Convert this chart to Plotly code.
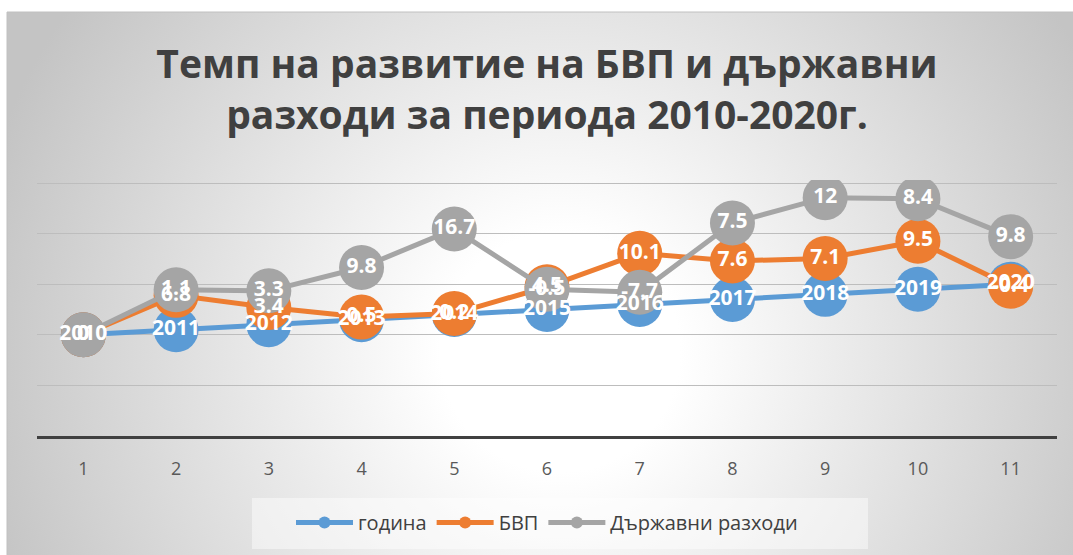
import base64
import plotly.graph_objects as go

categories = [1, 2, 3, 4, 5, 6, 7, 8, 9, 10, 11]
godina = [2010, 2011, 2012, 2013, 2014, 2015, 2016, 2017, 2018, 2019, 2020]
bvp = [0, 6.8, 3.4, 0.5, 0.2, 4.5, 10.1, 7.6, 7.1, 9.5, -0.4]
razhodi = [0, 1.1, 3.3, 9.8, 16.7, -0.5, -7.7, 7.5, 12, 8.4, 9.8]
names = ["година", "БВП", "Държавни разходи"]
colors = ["#5B9BD5", "#ED7D31", "#A5A5A5"]
series = [godina, bvp, razhodi]

fig = go.Figure()
for name, vals, col in zip(names, series, colors):
    fig.add_trace(go.Scatter(
        x=categories, y=vals, name=name, stackgroup="s", fill="none",
        mode="lines+markers", line=dict(color=col, width=5),
        marker=dict(color=col, size=45), hoverinfo="skip"))
for name, vals, col in zip(names, series, colors):
    fig.add_trace(go.Scatter(
        x=categories, y=vals, stackgroup="t", fill="none", mode="text",
        text=[str(v) for v in vals], textposition="middle center",
        textfont=dict(color="white", size=21, family="Open Sans", weight="bold"),
        showlegend=False, hoverinfo="skip"))

svg = ("<svg xmlns='http://www.w3.org/2000/svg' width='1066' height='543'>"
       "<defs><radialGradient id='g' gradientUnits='userSpaceOnUse' cx='553' cy='340' r='600'>"
       "<stop offset='0' stop-color='#ffffff'/><stop offset='0.2' stop-color='#ffffff'/>"
       "<stop offset='1' stop-color='#c4c4c4'/>"
       "</radialGradient></defs><rect width='100%' height='100%' fill='url(#g)'/></svg>")
src = "data:image/svg+xml;base64," + base64.b64encode(svg.encode()).decode()

L, R, T, B = 37, 16, 180, 119
W, H = 1073, 555
pw, ph = W - L - R, H - T - B


def px(x):
    return (x - L) / pw


def py(y):
    return (H - B - y) / ph


fig.add_layout_image(dict(source=src, xref="paper", yref="paper", x=px(7), y=py(12),
                          sizex=px(W) - px(7), sizey=py(12) - py(H), xanchor="left", yanchor="top",
                          sizing="stretch", layer="below"))
fig.add_shape(type="rect", xref="paper", yref="paper", x0=px(7), y0=py(H + 20), x1=px(W + 20), y1=py(12),
              line=dict(color="#c0c0c0", width=1), layer="below")
fig.add_shape(type="rect", xref="paper", yref="paper", x0=px(252), y0=py(549), x1=px(868), y1=py(498),
              line=dict(width=0), fillcolor="rgba(255,255,255,0.45)", layer="below")

fig.update_layout(
    width=W, height=H,
    margin=dict(l=L, r=R, t=T, b=B),
    paper_bgcolor="white", plot_bgcolor="rgba(0,0,0,0)",
    title=dict(text="<b>Темп на развитие на БВП и държавни<br>разходи за периода 2010-2020г.</b>",
               x=0.5, xref="paper", xanchor="center", y=1 - 78 / H, yref="container", yanchor="top",
               font=dict(size=39, color="#404040", family="Open Sans")),
    showlegend=True,
    legend=dict(orientation="h", x=0.5, xref="paper", xanchor="center", y=py(503),
                yanchor="top", bgcolor="rgba(0,0,0,0)", itemwidth=57, itemsizing="constant",
                font=dict(size=20, color="#404040", family="Open Sans")),
    font=dict(family="Open Sans"),
)
fig.update_xaxes(range=[0.5, 11.5], tickvals=categories, showgrid=False, zeroline=False,
                 showline=True, linecolor="#404040", linewidth=3, ticks="",
                 ticklabelstandoff=14, tickfont=dict(size=18, color="#595959"))
fig.update_yaxes(range=[1990, 2040.6], dtick=10, tick0=1990, showgrid=True, gridcolor="#bdbdbd",
                 gridwidth=1, showticklabels=False, zeroline=False)

fig.write_html("out.html", post_script="document.body.style.margin='0';",
               config={"displayModeBar": False})
